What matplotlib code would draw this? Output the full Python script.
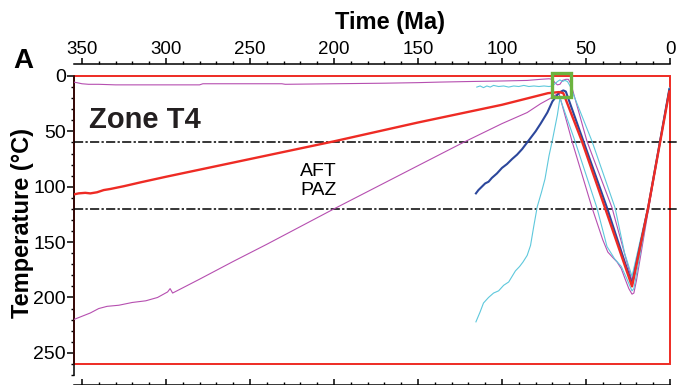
import matplotlib
matplotlib.use("Agg")
from matplotlib import pyplot as plt
from matplotlib.patches import Rectangle
from matplotlib.ticker import MultipleLocator

plt.rcParams["font.family"] = ["Liberation Sans", "DejaVu Sans"]

# thermal history paths, time (Ma) / temperature (degC)
red_t = [355, 352, 348, 345, 341, 337, 333, 325, 315, 300, 275, 250, 225, 200,
         150, 100, 72.6, 66, 63.5, 52.4, 38.7, 22.6, 13, 0.4]
red_T = [107, 106, 105.5, 106, 105, 103, 102, 99.5, 96, 91, 83, 75, 67, 59,
         42, 26, 15.5, 14.5, 15.5, 59, 119, 190, 119, 14]

blue_t = [115.5, 114, 112, 110, 108, 106, 103, 100, 97, 94, 91, 88, 86, 84.5,
          80, 77, 73, 70, 66, 63.5, 62, 51.5, 37.5, 22.6, 13, 0.4]
blue_T = [106, 103, 100, 97, 95.5, 92, 88, 83, 79.5, 75, 71, 66, 62, 59,
          50, 43, 33, 23, 15, 13, 14, 59, 119, 188, 119, 12]

mag_a_t = [355, 345, 340, 335, 328, 320, 312, 305, 299, 297.5, 296, 280, 260, 240,
           220, 200, 175, 150, 123, 100, 85, 77, 71, 68, 66, 58.3, 46.4, 40,
           37, 34, 31.5, 29, 26.8, 24.5, 22.6, 21.5, 20, 13, 0.4]
mag_a_T = [220, 214, 210, 208, 207, 204.5, 203, 200, 195, 192, 196, 183.5, 167.5, 152,
           136, 120, 100.5, 81, 60, 43, 33, 25, 20, 17, 16, 59, 119, 148,
           159, 164, 168, 174, 183, 192, 197, 196, 185, 122, 13]

mag_b_t = [355, 353, 350, 346, 340, 330, 320, 310, 300, 290, 280, 278, 260, 240,
           231, 229, 200, 170, 150, 137, 120, 100, 85, 77, 72, 70, 68.5, 67,
           65.5, 64, 62, 60.5, 59, 49.4, 34.5, 22.6, 13, 0.4]
mag_b_T = [5.5, 6, 7, 7.5, 7.5, 8, 8, 8, 8, 8, 8, 7, 7, 7,
           7, 7.5, 7, 6.5, 6, 5.5, 5, 4.5, 4, 3, 2.5, 3, 6, 8,
           7.5, 4, 3, 3, 7, 59, 119, 185, 118, 13]

cyan_a_t = [115.5, 113, 111, 108, 105, 102, 99, 96, 92, 89.5, 87.5, 85, 83, 81,
            79, 76.5, 74.4, 72, 70, 67, 65.5, 56.5, 43.5, 37.5, 33, 29, 26,
            23.5, 22.6, 21.5, 13, 0.4]
cyan_a_T = [222, 213, 205, 200, 196, 194, 189, 186, 176, 172, 168, 162, 153, 135,
            118, 105, 93, 72, 58, 35, 20, 59, 119, 154, 165, 172, 182,
            191, 194, 192, 120, 11]

cyan_b_t = [115, 113, 111, 109, 107, 105, 102, 99, 96, 93, 90, 87, 84, 81, 78,
            75, 72, 70, 68.5, 67, 65.5, 64, 62.5, 61, 59.5, 46.4, 32.7, 27,
            22.6, 13, 0.4]
cyan_b_T = [10, 9, 10.5, 9, 10, 8.5, 9.5, 9, 10, 9, 9.5, 8.5, 9.5, 9, 9.5,
            9, 9.5, 9, 7, 5, 3.5, 5, 4, 5, 9, 59, 119, 160,
            181, 117, 11]

paz_limits = [60, 120]
constraint_box = (355, 0, 260)       # t start, T top, T bottom
window_box = (70.2, 59, -3, 19)      # t1, t2, T1, T2

RED = "#ee2b24"
BLUE = "#2c479c"
MAGENTA = "#b64fb0"
CYAN = "#5ec8dc"
GREEN = "#6cb33f"

fig = plt.figure(figsize=(6.78, 3.85), dpi=100)
ax = fig.add_axes([73.5 / 678, 1 - 375 / 385, (670 - 73.5) / 678, (375 - 76) / 385])

# constraint box
ax.add_patch(Rectangle((0, constraint_box[1]), constraint_box[0],
                       constraint_box[2] - constraint_box[1],
                       fill=False, edgecolor=RED, lw=1.4, zorder=2, clip_on=False))

for y in paz_limits:
    ax.plot([355, -5], [y, y], color="black", lw=1.1,
            linestyle=(0, (6, 1.5, 1.5, 1.5)), clip_on=False, zorder=3)

ax.plot(mag_b_t, mag_b_T, color=MAGENTA, lw=0.8, zorder=4)
ax.plot(mag_a_t, mag_a_T, color=MAGENTA, lw=0.8, zorder=4)
ax.plot(cyan_a_t, cyan_a_T, color=CYAN, lw=0.8, zorder=4)
ax.plot(cyan_b_t, cyan_b_T, color=CYAN, lw=0.8, zorder=4)
ax.plot(blue_t, blue_T, color=BLUE, lw=1.5, zorder=5)
ax.plot(red_t, red_T, color=RED, lw=1.7, zorder=6)

ax.add_patch(Rectangle((window_box[1], window_box[2]), window_box[0] - window_box[1],
                       window_box[3] - window_box[2], fill=False,
                       edgecolor=GREEN, lw=2.4, zorder=7, clip_on=False))

ax.set_xlim(355, 0)
ax.set_ylim(270, 0)

ax.spines["right"].set_visible(False)
ax.spines["top"].set_visible(False)
ax.spines["bottom"].set_position(("outward", 7))
for s in ["bottom", "left"]:
    ax.spines[s].set_linewidth(1.1)

ax.xaxis.set_major_locator(MultipleLocator(50))
ax.xaxis.set_minor_locator(MultipleLocator(10))
ax.yaxis.set_major_locator(MultipleLocator(50))
ax.yaxis.set_minor_locator(MultipleLocator(10))
ax.tick_params(axis="x", which="both", direction="in", labelbottom=False)
ax.tick_params(axis="x", which="major", length=4, width=1.1)
ax.tick_params(axis="x", which="minor", length=2, width=1)
ax.tick_params(axis="y", which="major", length=5, width=1.1, labelsize=14, pad=0.5)
ax.tick_params(axis="y", which="minor", length=2, width=1)

# time axis drawn above the plot
top = ax.secondary_xaxis(1 + 12 / 299)
top.spines["top"].set_linewidth(1.1)
top.xaxis.set_major_locator(MultipleLocator(50))
top.xaxis.set_minor_locator(MultipleLocator(10))
top.tick_params(axis="x", which="major", length=4, width=1.1, labelsize=13.5, pad=0.5)
top.tick_params(axis="x", which="minor", length=2, width=1)

ax.set_ylabel("Temperature (°C)", fontsize=17, fontweight="bold")
ax.yaxis.set_label_coords(-0.067, 0.51)

fig.text(390 / 678, 1 - 22 / 385, "Time (Ma)", fontsize=17, fontweight="bold",
         ha="center", va="center")
fig.text(13 / 678, 1 - 68 / 385, "A", fontsize=20, fontweight="bold",
         ha="left", va="baseline")
fig.text(89 / 678, 1 - 128 / 385, "Zone T4", fontsize=21, fontweight="bold",
         ha="left", va="baseline", color="#231f20")
fig.text(300 / 678, 1 - 176 / 385, "AFT", fontsize=14, ha="left", va="baseline")
fig.text(300 / 678, 1 - 195 / 385, "PAZ", fontsize=14, ha="left", va="baseline")

fig.savefig("out.png", dpi=100)
